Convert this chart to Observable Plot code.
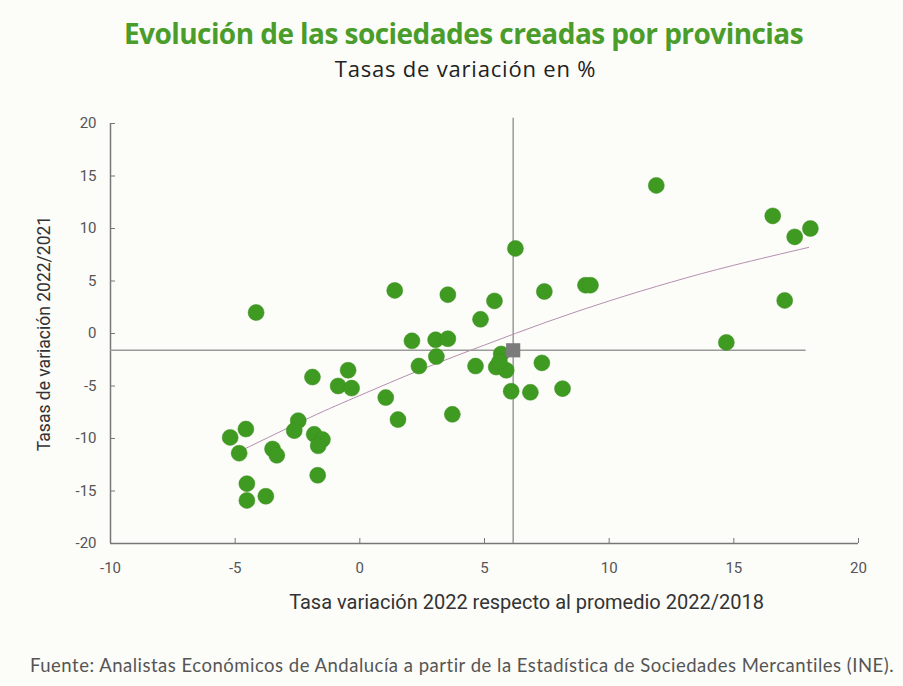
<!DOCTYPE html>
<html><head><meta charset="utf-8">
<script src="https://cdn.jsdelivr.net/npm/d3@7"></script>
<script src="https://cdn.jsdelivr.net/npm/@observablehq/plot@0.6"></script>
<style>
html,body{margin:0;padding:0;}
body{width:903px;height:686px;position:relative;overflow:hidden;background:#fcfcf9;}
#title{position:absolute;top:17px;left:12px;width:903px;text-align:center;font-family:"Open Sans";font-weight:700;font-size:28px;line-height:32px;color:#4a9d2a;letter-spacing:-0.55px;white-space:nowrap;}
#subtitle{position:absolute;top:55px;left:14px;width:903px;text-align:center;font-family:"Open Sans";font-size:22px;line-height:26px;color:#222;letter-spacing:0.8px;white-space:nowrap;}
#chart{position:absolute;top:95px;left:0;}
#caption{position:absolute;top:654px;left:30px;font-family:Lato;font-size:18.5px;letter-spacing:0.5px;color:#555;white-space:nowrap;}
</style>
</head><body>
<div id="title">Evolución de las sociedades creadas por provincias</div>
<div id="subtitle">Tasas de variación en %</div>
<div id="chart"></div>
<div id="caption">Fuente: Analistas Económicos de Andalucía a partir de la Estadística de Sociedades Mercantiles (INE).</div>
<script>
// Provinces: x = tasa 2022 vs promedio 2022/2018, y = tasa 2022/2021
const provX = [-5.20,-4.57,-4.84,-2.47,-2.63,-3.50,-3.33,-1.83,-1.50,-1.67,-1.69,-4.53,-4.53,-3.77,
  2.09,3.04,3.53,3.07,2.37,1.04,1.53,3.71,4.64,5.67,5.47,5.87,5.60,7.30,6.07,6.84,8.13,
  -1.90,-0.47,-0.87,-0.33,1.40,3.53,5.40,4.84,6.24,7.40,-4.16,9.05,9.25,
  11.89,16.56,17.44,18.07,17.04,14.70];
const provY = [-9.9,-9.1,-11.4,-8.3,-9.25,-11.0,-11.6,-9.6,-10.1,-10.7,-13.5,-14.3,-15.9,-15.5,
  -0.7,-0.6,-0.5,-2.2,-3.1,-6.1,-8.2,-7.7,-3.1,-1.95,-3.2,-3.5,-2.7,-2.8,-5.5,-5.6,-5.25,
  -4.15,-3.5,-5.0,-5.2,4.1,3.7,3.1,1.35,8.1,4.0,2.0,4.6,4.6,
  14.1,11.2,9.2,10.0,3.15,-0.85];
// Reference (Spain) point
const spainX = 6.15;
const spainY = -1.6;
// Trend line
const trendX = [-4.8,-2,0,2.5,5,7.5,10,12.5,15,18];
const trendY = [-11.2,-8.0,-5.9,-3.4,-1.1,1.1,3.1,4.9,6.5,8.2];
// Axes
const xTicks = [-10,-5,0,5,10,15,20];
const yTicks = [-20,-15,-10,-5,0,5,10,15,20];
const xLabel = "Tasa variación 2022 respecto al promedio 2022/2018";
const yLabel = "Tasas de variación 2022/2021";
const hRuleEnd = 17.9;
const vRuleTop = 20.5;

const provs = provX.map((x, i) => ({x, y: provY[i]}));
const trend = trendX.map((x, i) => ({x, y: trendY[i]}));
const fmt = d => String(d);

const chart = Plot.plot({
  width: 903,
  height: 530,
  marginLeft: 110,
  marginRight: 45,
  marginTop: 28,
  marginBottom: 82,
  x: {domain: [xTicks[0], xTicks[xTicks.length-1]]},
  y: {domain: [yTicks[0], yTicks[yTicks.length-1]]},
  style: {fontFamily: "Roboto", fontSize: "15px", color: "#555", background: "transparent", overflow: "visible"},
  marks: [
    Plot.axisX({ticks: xTicks, tickFormat: fmt, tickSize: -5, tickPadding: 24, stroke: "#777", label: null, fill: "#555", fontSize: 15}),
    Plot.axisY({ticks: yTicks, tickFormat: fmt, tickSize: -5, tickPadding: 19, stroke: "#777", label: null, fill: "#555", fontSize: 15}),
    Plot.ruleY([yTicks[0]], {stroke: "#777", strokeWidth: 1.5}),
    Plot.ruleX([xTicks[0]], {stroke: "#777", strokeWidth: 1.5}),
    Plot.ruleY([spainY], {x1: xTicks[0], x2: hRuleEnd, stroke: "#9a9a9a", strokeWidth: 1.5}),
    Plot.ruleX([spainX], {y1: yTicks[0], y2: vRuleTop, stroke: "#9a9a9a", strokeWidth: 1.5, clip: false}),
    Plot.line(trend, {x: "x", y: "y", curve: "natural", stroke: "#b58fb0", strokeWidth: 1}),
    Plot.dot(provs, {x: "x", y: "y", r: 8, fill: "#3f9a22", stroke: "#3a8e1f", strokeWidth: 0.5}),
    Plot.dot([{x: spainX, y: spainY}], {x: "x", y: "y", symbol: "square", r: 8, fill: "#7b7b7b"}),
    Plot.text([xLabel], {frameAnchor: "bottom", dx: 42, dy: 59, fontSize: 20, fill: "#333", lineAnchor: "middle", textAnchor: "middle"}),
    Plot.text([yLabel], {frameAnchor: "left", dx: -66, rotate: -90, fontSize: 17.5, fill: "#333", lineAnchor: "middle", textAnchor: "middle"})
  ]
});
document.getElementById("chart").appendChild(chart);
</script>
</body></html>
